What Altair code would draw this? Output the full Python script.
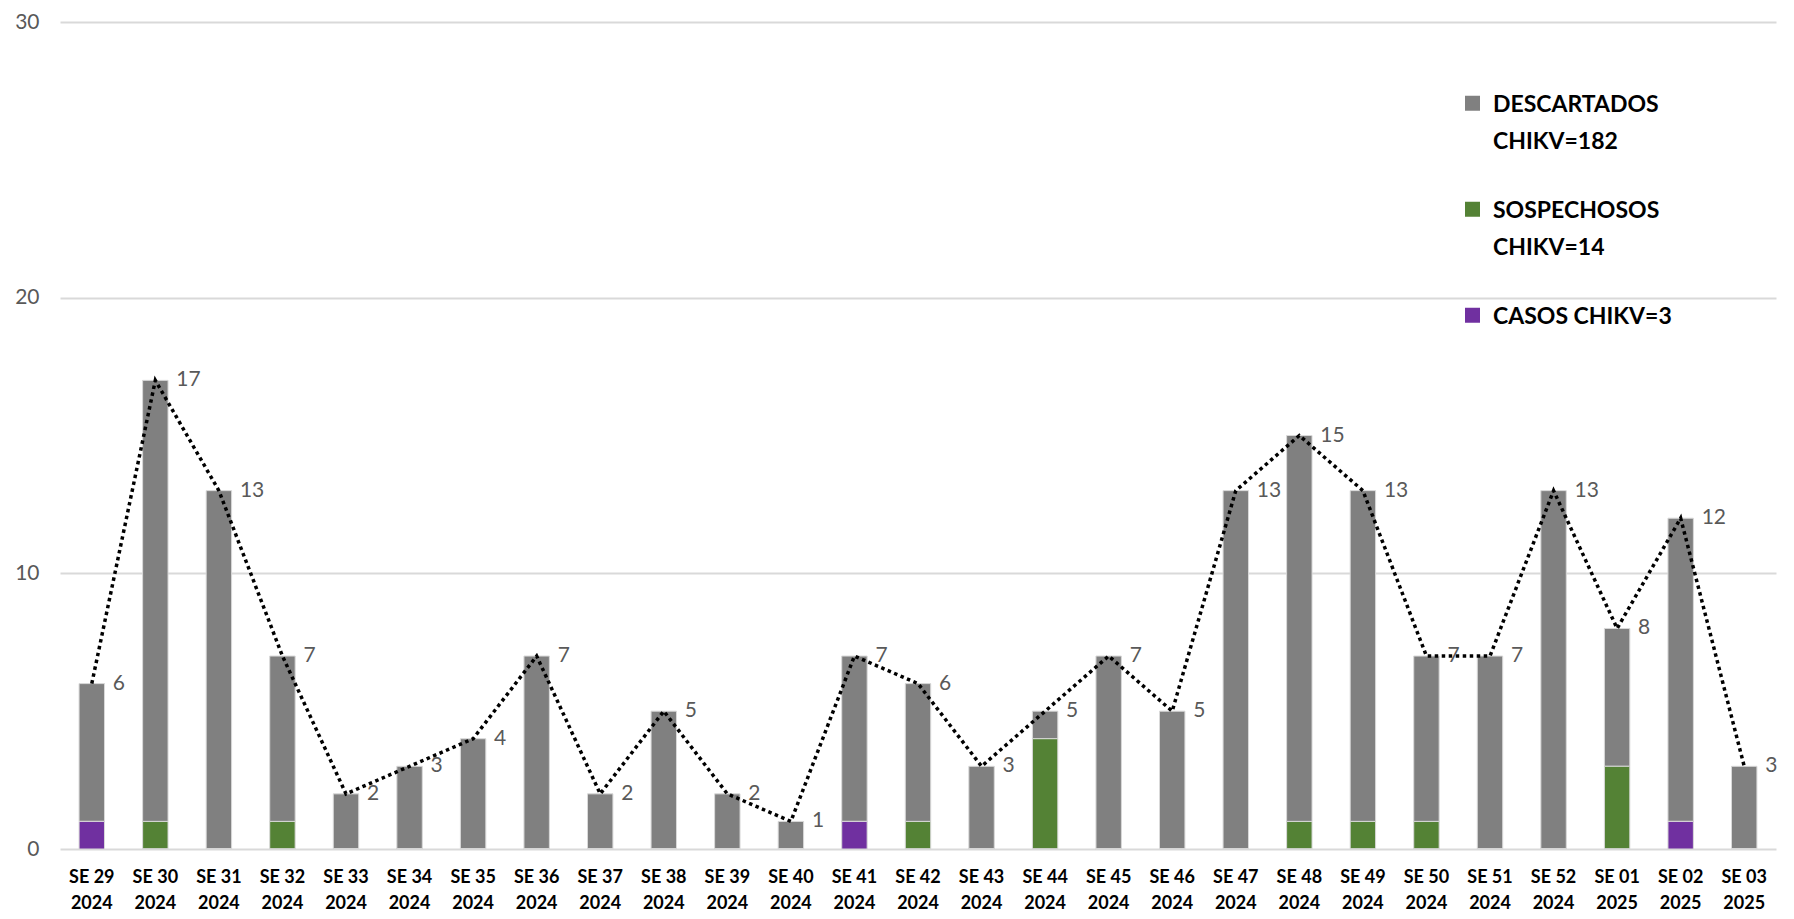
import altair as alt
import pandas as pd

weeks = ["SE 29", "SE 30", "SE 31", "SE 32", "SE 33", "SE 34", "SE 35", "SE 36", "SE 37",
         "SE 38", "SE 39", "SE 40", "SE 41", "SE 42", "SE 43", "SE 44", "SE 45", "SE 46",
         "SE 47", "SE 48", "SE 49", "SE 50", "SE 51", "SE 52", "SE 01", "SE 02", "SE 03"]
years = ["2024"] * 24 + ["2025"] * 3

descartados = [5, 16, 13, 6, 2, 3, 4, 7, 2, 5, 2, 1, 6, 5, 3, 1, 7, 5, 13, 14, 12, 6, 7, 13, 5, 11, 3]
sospechosos = [0, 1, 0, 1, 0, 0, 0, 0, 0, 0, 0, 0, 0, 1, 0, 4, 0, 0, 0, 1, 1, 1, 0, 0, 3, 0, 0]
casos = [1, 0, 0, 0, 0, 0, 0, 0, 0, 0, 0, 0, 1, 0, 0, 0, 0, 0, 0, 0, 0, 0, 0, 0, 0, 1, 0]
totales = [6, 17, 13, 7, 2, 3, 4, 7, 2, 5, 2, 1, 7, 6, 3, 5, 7, 5, 13, 15, 13, 7, 7, 13, 8, 12, 3]

series_names = ["DESCARTADOS|CHIKV=182", "SOSPECHOSOS|CHIKV=14", "CASOS CHIKV=3"]
series_colors = ["#808080", "#548235", "#7030A0"]
series_order = [2, 1, 0]

labels = [f"{w}|{y}" for w, y in zip(weeks, years)]

rows = []
for vals, name, order in zip([descartados, sospechosos, casos], series_names, series_order):
    for lab, v in zip(labels, vals):
        rows.append({"semana": lab, "serie": name, "valor": v, "orden": order})
df = pd.DataFrame(rows)
df_tot = pd.DataFrame({"semana": labels, "total": totales})

x_enc = alt.X(
    "semana:N",
    sort=labels,
    scale=alt.Scale(paddingInner=0.6, paddingOuter=0.3),
    axis=alt.Axis(
        title=None,
        labelExpr="split(datum.label, '|')",
        labelAngle=0,
        labelFont="Lato",
        labelFontSize=18,
        labelFontWeight="bold",
        labelColor="#000000",
        labelLineHeight=26,
        labelPadding=19,
        ticks=False,
        domain=False,
        grid=False,
    ),
)

y_scale = alt.Scale(domain=[0, 30], nice=False)

bars = alt.Chart(df).mark_bar(stroke="#d9d9d9", strokeWidth=1).encode(
    x=x_enc,
    y=alt.Y(
        "valor:Q",
        stack="zero",
        scale=y_scale,
        axis=alt.Axis(
            title=None,
            values=[0, 10, 20, 30],
            labelFont="Lato",
            labelFontSize=21,
            labelColor="#595959",
            labelPadding=21,
            ticks=False,
            domain=False,
            grid=True,
            gridColor="#d9d9d9",
            gridWidth=2,
        ),
    ),
    color=alt.Color(
        "serie:N",
        scale=alt.Scale(domain=series_names, range=series_colors),
        legend=alt.Legend(
            title=None,
            orient="none",
            legendX=1401,
            legendY=78,
            direction="vertical",
            labelExpr="split(datum.label, '|')",
            labelFont="Lato",
            labelFontSize=23,
            labelFontWeight="bold",
            labelColor="#000000",
            labelBaseline="alphabetic",
            labelOffset=9,
            labelLimit=400,
            rowPadding=45,
            symbolType="M-1,-2.1L1,-2.1L1,-0.1L-1,-0.1Z",
            symbolSize=225,
            symbolStrokeWidth=0,
            symbolOpacity=1,
        ),
    ),
    order=alt.Order("orden:Q", sort="ascending"),
)

line = alt.Chart(df_tot).mark_line(
    color="#000000", strokeWidth=3.5, strokeDash=[3.5, 3.5]
).encode(
    x=alt.X("semana:N", sort=labels),
    y=alt.Y("total:Q", scale=y_scale),
)

text = alt.Chart(df_tot).mark_text(
    align="left", baseline="middle", dx=21, font="Lato", fontSize=21, color="#595959"
).encode(
    x=alt.X("semana:N", sort=labels),
    y=alt.Y("total:Q", scale=y_scale),
    text="total:Q",
)

chart = alt.layer(bars, line, text).properties(
    width=1716,
    height=827,
    padding={"left": 52, "top": 14, "right": 10, "bottom": 62},
    autosize=alt.AutoSizeParams(type="none"),
).configure(
    font="Lato",
    style={"guide-label": {"lineHeight": 37}},
).configure_view(stroke=None)

chart.save("out.html", embed_options={"renderer": "svg", "actions": False})
